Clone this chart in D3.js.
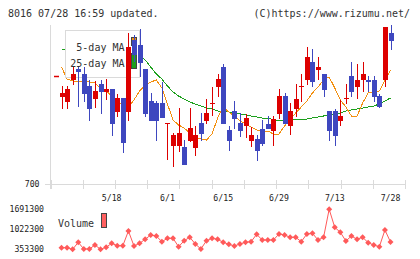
<!DOCTYPE html>
<meta charset="utf-8">
<style>
    html,
    body {
        margin: 0;
        padding: 0;
        background: #fff;
    }

    svg {
        display: block;
    }

    text {
        font-family: "DejaVu Sans Mono", monospace;
        font-size: 10px;
        fill: #333;
    }

    .small {
        font-size: 8.2px;
        fill: #222;
    }
</style>

<body>
    <svg id="chart" width="420" height="259"></svg>
    <script src="https://cdn.jsdelivr.net/npm/d3@7/dist/d3.min.js"></script>
    <script>
        // trading days 2015/4/30 - 7/28
        const dates = ['4/30', '5/1', '5/7', '5/8', '5/11', '5/12', '5/13', '5/14', '5/15', '5/18',
            '5/19', '5/20', '5/21', '5/22', '5/25', '5/26', '5/27', '5/28', '5/29', '6/1',
            '6/2', '6/3', '6/4', '6/5', '6/8', '6/9', '6/10', '6/11', '6/12', '6/15',
            '6/16', '6/17', '6/18', '6/19', '6/22', '6/23', '6/24', '6/25', '6/26', '6/29',
            '6/30', '7/1', '7/2', '7/3', '7/6', '7/7', '7/8', '7/9', '7/10', '7/13',
            '7/14', '7/15', '7/16', '7/17', '7/21', '7/22', '7/23', '7/24', '7/27', '7/28'];
        const dateLabels = ['5/18', '6/1', '6/15', '6/29', '7/13', '7/28'];

        const open = [875, 865, 908, 930, 920, 896, 870, 900, 885, 890,
            845, 872, 845, 988, 978, 930, 866, 862, 862, 821,
            777, 777, 775, 787, 773, 822, 827, 861, 895, 935,
            808, 847, 823, 816, 787, 791, 811, 821, 807, 840,
            876, 817, 851, 895, 908, 945, 928, 920, 846, 846,
            827, 871, 916, 895, 908, 909, 909, 876, 908, 1003];
        const high = [896, 896, 935, 935, 935, 908, 906, 908, 910, 890,
            880, 872, 1002, 998, 1010, 930, 882, 866, 905, 822,
            802, 852, 788, 852, 816, 842, 871, 895, 920, 940,
            816, 867, 842, 840, 815, 798, 828, 836, 837, 890,
            883, 863, 900, 920, 975, 970, 955, 920, 846, 851,
            868, 900, 945, 940, 945, 916, 916, 880, 1015, 1018];
        const low = [850, 850, 898, 855, 865, 826, 852, 840, 868, 796,
            835, 763, 827, 944, 915, 834, 826, 787, 832, 748,
            735, 765, 739, 785, 756, 787, 820, 836, 875, 821,
            767, 811, 795, 792, 775, 747, 777, 811, 777, 831,
            820, 798, 835, 865, 898, 895, 908, 875, 787, 777,
            817, 860, 875, 870, 885, 885, 865, 853, 895, 969];
        const close = [883, 890, 920, 925, 880, 850, 886, 885, 890, 820,
            872, 783, 974, 958, 943, 840, 827, 827, 832, 822,
            798, 802, 739, 812, 798, 800, 842, 862, 910, 821,
            787, 830, 807, 832, 798, 767, 781, 811, 831, 876,
            820, 847, 871, 896, 955, 905, 935, 888, 807, 797,
            836, 872, 885, 909, 920, 905, 875, 854, 1015, 987];
        const volume = [407000, 407000, 353000, 587000, 363000, 363000, 497000, 353000, 420000, 554000,
            474000, 474000, 965000, 464000, 554000, 688000, 832000, 798000, 608000, 721000,
            721000, 440000, 641000, 755000, 531000, 363000, 641000, 721000, 688000, 587000,
            521000, 464000, 531000, 587000, 608000, 855000, 664000, 664000, 664000, 865000,
            832000, 755000, 755000, 608000, 865000, 889000, 664000, 755000, 1691000, 1089000,
            922000, 631000, 798000, 688000, 755000, 574000, 497000, 440000, 999000, 597000];
        const ma5 = [934, 910, 906, 906, 906, 904, 902, 892, 886, 876,
            866, 858, 854, 868, 886, 898, 904, 908, 892, 860,
            828, 818, 812, 802, 792, 790, 788, 800, 832, 854,
            844, 836, 826, 820, 814, 808, 806, 806, 800, 800,
            816, 830, 842, 854, 866, 882, 894, 908, 914, 892,
            868, 854, 836, 836, 862, 882, 884, 886, 908, 928];
        const ma25 = [970, 969, 968, 967, 966, 965, 964, 963, 962, 961,
            960, 958, 956, 954, 956, 948, 934, 920, 910, 896,
            884, 876, 870, 864, 860, 856, 852, 850, 846, 846,
            844, 842, 840, 838, 836, 834, 832, 832, 828, 828,
            828, 829, 830, 830, 830, 832, 834, 836, 838, 840,
            842, 846, 848, 850, 852, 854, 856, 860, 866, 872];
        const priceTicks = [700];
        const volumeTicks = [353300, 1022300, 1691300];
        const markPrice = 916;

        const svg = d3.select('#chart');
        const n = dates.length;
        const x = d3.scaleLinear().domain([0, n - 1]).range([61.5, 390.5]);
        const y = d3.scaleLinear().domain([700, 1018]).range([184, 25]);
        const yv = d3.scaleLinear().domain([353300, 1691300]).range([249.3, 209.3]);
        const grid = d3.scaleLinear().domain([0, 11]).range([50.5, 405]);

        const RED = '#dd0000';
        const BLUE = '#3e47bf';
        const ORANGE = '#f39010';
        const GREEN = '#1ca01c';
        const AXIS = '#dadada';
        const VOL = '#ff5a5a';

        // header
        svg.append('text').attr('x', 8).attr('y', 16.5)
            .text('8016 07/28 16:59 updated.');
        svg.append('text').attr('x', 410).attr('y', 16.5).attr('text-anchor', 'end')
            .text('(C)https://www.rizumu.net/');

        // axes
        const ax = svg.append('g').attr('stroke', AXIS).attr('shape-rendering', 'crispEdges');
        ax.append('line').attr('x1', 50.5).attr('x2', 50.5).attr('y1', 25).attr('y2', 189);
        ax.append('line').attr('x1', 45).attr('x2', 405.5).attr('y1', y(700) + 0.5).attr('y2', y(700) + 0.5);
        ax.selectAll('.tick').data(d3.range(12)).join('line')
            .attr('x1', d => Math.round(grid(d)) + 0.5).attr('x2', d => Math.round(grid(d)) + 0.5)
            .attr('y1', 180).attr('y2', 189);

        svg.selectAll('.ptick').data(priceTicks).join('text')
            .attr('class', 'small')
            .attr('x', 39.5).attr('y', d => y(d) + 3).attr('text-anchor', 'end')
            .text(d => d);
        svg.selectAll('.dtick').data(dateLabels).join('text')
            .attr('class', 'small')
            .attr('x', d => x(dates.indexOf(d))).attr('y', 201).attr('text-anchor', 'middle')
            .text(d => d);

        // moving averages
        const maLine = d3.line().x((d, i) => x(i)).y(d => y(d));
        svg.append('path').datum(ma25).attr('d', maLine).attr('fill', 'none')
            .attr('stroke', GREEN).attr('shape-rendering', 'crispEdges');
        svg.append('path').datum(ma5).attr('d', maLine).attr('fill', 'none')
            .attr('stroke', ORANGE).attr('shape-rendering', 'crispEdges');

        svg.append('line').attr('x1', 54).attr('x2', 59)
            .attr('y1', Math.round(y(markPrice)) + 0.5).attr('y2', Math.round(y(markPrice)) + 0.5)
            .attr('stroke', RED).attr('stroke-width', 1.5);

        // legend
        const lg = svg.append('g');
        lg.append('rect').attr('x', 65.5).attr('y', 30.5).attr('width', 74).attr('height', 47)
            .attr('fill', '#fff').attr('stroke', AXIS);
        lg.append('text').attr('x', 124.5).attr('y', 50.5).attr('text-anchor', 'end').text('5-day MA');
        lg.append('text').attr('x', 124.5).attr('y', 67.3).attr('text-anchor', 'end').text('25-day MA');
        lg.append('rect').attr('x', 131.5).attr('y', 37.5).attr('width', 5).attr('height', 8)
            .attr('fill', ORANGE).attr('stroke', '#444');
        lg.append('rect').attr('x', 131.5).attr('y', 53.5).attr('width', 5).attr('height', 15)
            .attr('fill', GREEN).attr('stroke', '#444');

        // candles
        const candles = svg.append('g').attr('shape-rendering', 'crispEdges');
        const idx = d3.range(n);
        const col = i => close[i] >= open[i] ? RED : BLUE;
        candles.selectAll('.wick').data(idx).join('line')
            .attr('x1', i => Math.round(x(i)) + 0.5).attr('x2', i => Math.round(x(i)) + 0.5)
            .attr('y1', i => y(high[i])).attr('y2', i => y(low[i]))
            .attr('stroke', col);
        candles.selectAll('.body').data(idx).join('rect')
            .attr('x', i => Math.round(x(i)) - 2)
            .attr('y', i => y(Math.max(open[i], close[i])))
            .attr('width', 5)
            .attr('height', i => Math.max(1, Math.abs(y(open[i]) - y(close[i]))))
            .attr('fill', col);

        // volume
        svg.selectAll('.vtick').data(volumeTicks).join('text')
            .attr('class', 'small')
            .attr('x', 44).attr('y', d => yv(d) + 3).attr('text-anchor', 'end')
            .text(d => d);
        svg.append('text').attr('x', 58).attr('y', 227).text('Volume');
        svg.append('rect').attr('x', 101.5).attr('y', 213.5).attr('width', 5).attr('height', 14)
            .attr('fill', '#ff6060').attr('stroke', '#444');

        const vLine = d3.line().x((d, i) => x(i)).y(d => yv(d));
        svg.append('path').datum(volume).attr('d', vLine).attr('fill', 'none')
            .attr('stroke', VOL).attr('stroke-width', 1);
        svg.selectAll('.vpt').data(volume).join('path')
            .attr('d', d3.symbol(d3.symbolSquare, 18))
            .attr('transform', (d, i) => `translate(${x(i)},${yv(d)}) rotate(45)`)
            .attr('fill', VOL);
    </script>
</body>

</html>
